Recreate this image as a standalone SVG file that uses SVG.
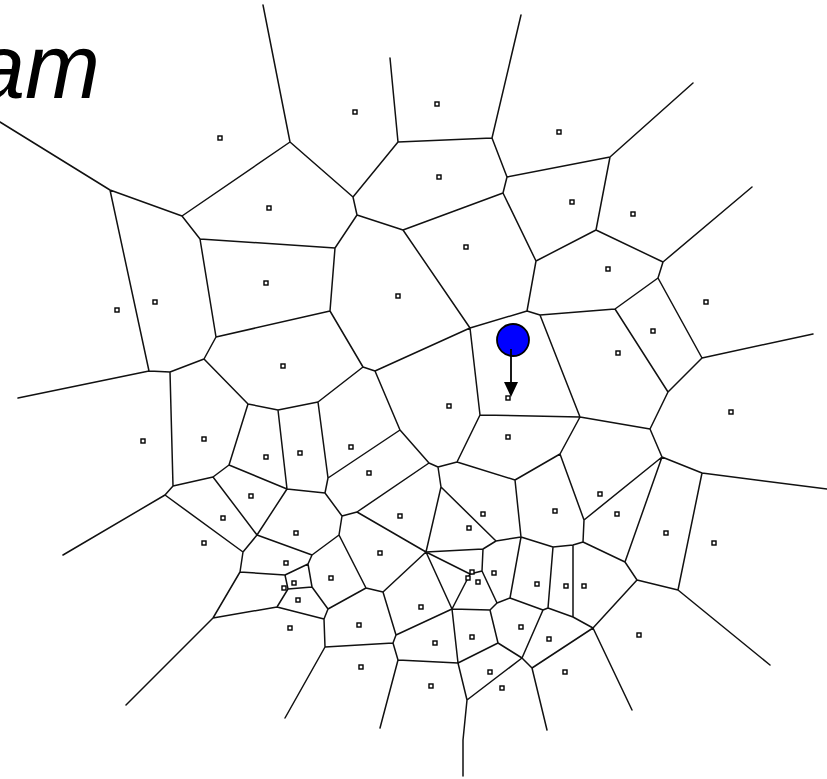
<svg xmlns="http://www.w3.org/2000/svg" width="827" height="779" viewBox="0 0 827 779">
<style>
.e{fill:none;stroke:#111;stroke-width:1.5;stroke-linecap:round;stroke-linejoin:round}
.s{fill:#fff;stroke:#000;stroke-width:1.4}
.t{font-family:"Liberation Sans",Arial,sans-serif;font-style:italic;font-size:90px;fill:#000}
</style>
<rect width="827" height="779" fill="#fff"/>
<text class="t" x="100" y="98" text-anchor="end">am</text>
<g id="connectors">
<path class="e" d="
M0,122 L110,190 L182,216 L290,142 L263,5
M110,190 L149,371 L18,398
M182,216 L200,239 L335,248 L357,215 L353,197 L290,142
M200,239 L216,337 L330,311 L335,248
M357,215 L403,230 L503,193 L507,177 L492,138 L521,15
M353,197 L398,142 L390,58
M398,142 L492,138
M507,177 L610,157 L693,83
M610,157 L596,230 L536,261 L503,193
M596,230 L663,262 L752,187
M149,371 L170,372 L173,486 L165,495 L63,555
M170,372 L204,359 L216,337
M204,359 L248,404 L278,410 L318,402 L363,367 L330,311
M248,404 L229,465 L213,477 L173,486
M278,410 L287,489 L229,465
M318,402 L328,478 L325,493 L287,489
M213,477 L257,535 L287,489
M165,495 L243,552 L257,535 L312,555
M243,552 L240,572 L285,575 L308,564 L312,555
M240,572 L213,618 L126,705
M213,618 L277,607 L288,589 L285,575
M288,589 L312,587 L308,564
M277,607 L324,619 L328,609 L312,587
M324,619 L325,647 L285,718
M325,647 L393,643 L396,635
M393,643 L398,660 L380,728
M328,609 L366,588 L339,535 L312,555
M325,493 L342,516 L339,535
M342,516 L357,512 L429,463 L400,430 L328,478
M400,430 L375,371 L363,367
M375,371 L470,328 L403,230
M470,328 L527,311 L536,261
M527,311 L540,315 L615,309
M540,315 L580,417 L480,415 L470,328
M429,463 L438,467 L457,462 L480,415
M438,467 L441,487 L426,552
M441,487 L496,541 L483,549 L426,552
M457,462 L515,480 L560,454 L580,417
M515,480 L521,537 L496,541
M357,512 L426,552 L383,592 L366,588
M383,592 L396,635 L452,609 L426,552
M426,552 L470,574 L482,571 L483,549
M470,574 L452,609
M482,571 L497,603 L510,598 L521,537
M497,603 L490,610 L452,609
M490,610 L498,643 L458,663 L452,609
M458,663 L398,660
M458,663 L467,700 L463,740 L463,776
M467,700 L522,658 L498,643
M510,598 L543,610 L522,658 L532,668 L547,730
M543,610 L548,608 L553,547 L521,537
M553,547 L573,545 L583,542 L584,520 L560,454
M573,545 L573,617 L548,608
M573,617 L593,628 L532,668
M593,628 L632,710
M593,628 L637,580 L625,562 L583,542
M625,562 L662,457 L584,520
M637,580 L678,590 L770,665
M678,590 L702,473 L662,457 L650,429 L580,417
M702,473 L827,489
M650,429 L668,392 L615,309 L658,278 L663,262
M668,392 L702,358 L658,278
M702,358 L813,334
"/>
</g>
<g id="sites">
<rect class="s" x="218" y="136" width="4" height="4"/>
<rect class="s" x="353" y="110" width="4" height="4"/>
<rect class="s" x="435" y="102" width="4" height="4"/>
<rect class="s" x="557" y="130" width="4" height="4"/>
<rect class="s" x="437" y="175" width="4" height="4"/>
<rect class="s" x="267" y="206" width="4" height="4"/>
<rect class="s" x="570" y="200" width="4" height="4"/>
<rect class="s" x="631" y="212" width="4" height="4"/>
<rect class="s" x="464" y="245" width="4" height="4"/>
<rect class="s" x="606" y="267" width="4" height="4"/>
<rect class="s" x="115" y="308" width="4" height="4"/>
<rect class="s" x="153" y="300" width="4" height="4"/>
<rect class="s" x="264" y="281" width="4" height="4"/>
<rect class="s" x="396" y="294" width="4" height="4"/>
<rect class="s" x="704" y="300" width="4" height="4"/>
<rect class="s" x="651" y="329" width="4" height="4"/>
<rect class="s" x="616" y="351" width="4" height="4"/>
<rect class="s" x="281" y="364" width="4" height="4"/>
<rect class="s" x="506" y="396" width="4" height="4"/>
<rect class="s" x="729" y="410" width="4" height="4"/>
<rect class="s" x="141" y="439" width="4" height="4"/>
<rect class="s" x="202" y="437" width="4" height="4"/>
<rect class="s" x="447" y="404" width="4" height="4"/>
<rect class="s" x="506" y="435" width="4" height="4"/>
<rect class="s" x="264" y="455" width="4" height="4"/>
<rect class="s" x="298" y="451" width="4" height="4"/>
<rect class="s" x="349" y="445" width="4" height="4"/>
<rect class="s" x="367" y="471" width="4" height="4"/>
<rect class="s" x="249" y="494" width="4" height="4"/>
<rect class="s" x="221" y="516" width="4" height="4"/>
<rect class="s" x="202" y="541" width="4" height="4"/>
<rect class="s" x="294" y="531" width="4" height="4"/>
<rect class="s" x="398" y="514" width="4" height="4"/>
<rect class="s" x="481" y="512" width="4" height="4"/>
<rect class="s" x="467" y="526" width="4" height="4"/>
<rect class="s" x="553" y="509" width="4" height="4"/>
<rect class="s" x="598" y="492" width="4" height="4"/>
<rect class="s" x="615" y="512" width="4" height="4"/>
<rect class="s" x="664" y="531" width="4" height="4"/>
<rect class="s" x="712" y="541" width="4" height="4"/>
<rect class="s" x="284" y="561" width="4" height="4"/>
<rect class="s" x="292" y="581" width="4" height="4"/>
<rect class="s" x="282" y="586" width="4" height="4"/>
<rect class="s" x="296" y="598" width="4" height="4"/>
<rect class="s" x="288" y="626" width="4" height="4"/>
<rect class="s" x="329" y="576" width="4" height="4"/>
<rect class="s" x="378" y="551" width="4" height="4"/>
<rect class="s" x="419" y="605" width="4" height="4"/>
<rect class="s" x="357" y="623" width="4" height="4"/>
<rect class="s" x="359" y="665" width="4" height="4"/>
<rect class="s" x="433" y="641" width="4" height="4"/>
<rect class="s" x="429" y="684" width="4" height="4"/>
<rect class="s" x="470" y="570" width="4" height="4"/>
<rect class="s" x="466" y="576" width="4" height="4"/>
<rect class="s" x="476" y="580" width="4" height="4"/>
<rect class="s" x="492" y="571" width="4" height="4"/>
<rect class="s" x="535" y="582" width="4" height="4"/>
<rect class="s" x="564" y="584" width="4" height="4"/>
<rect class="s" x="582" y="584" width="4" height="4"/>
<rect class="s" x="519" y="625" width="4" height="4"/>
<rect class="s" x="470" y="635" width="4" height="4"/>
<rect class="s" x="547" y="637" width="4" height="4"/>
<rect class="s" x="488" y="670" width="4" height="4"/>
<rect class="s" x="500" y="686" width="4" height="4"/>
<rect class="s" x="563" y="670" width="4" height="4"/>
<rect class="s" x="637" y="633" width="4" height="4"/>
</g>
<g id="pointer">
<circle cx="513" cy="340" r="16" fill="#0000ff" stroke="#000" stroke-width="1.8"/>
<line x1="511" y1="349" x2="511" y2="384" stroke="#000" stroke-width="1.8"/>
<polygon points="504,382 518,382 511,397" fill="#000"/>
</g>
</svg>
